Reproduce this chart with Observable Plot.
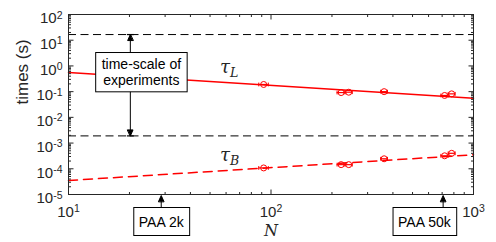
<!DOCTYPE html>
<html><head><meta charset="utf-8">
<script src="https://cdn.jsdelivr.net/npm/d3@7"></script>
<script src="https://cdn.jsdelivr.net/npm/@observablehq/plot@0.6"></script>
<style>html,body{margin:0;padding:0;background:#fff;}</style>
</head><body><div id="chart"></div>
<script>
// ---- data ----
const N      = [92, 222, 242, 362, 720, 780];
const NLo    = [87, 212, 232, 348, 690, 750];
const NHi    = [97, 232, 252, 376, 750, 812];
const tauL   = [0.19, 0.092, 0.095, 0.10, 0.071, 0.082];
const tauB   = [1.08e-4, 1.45e-4, 1.45e-4, 2.45e-4, 3.2e-4, 4.0e-4];
const fitN   = [10, 1000];
const fitL   = [0.55, 0.055];
const fitB   = [3.5e-5, 3.5e-4];
const expLimits = [16.6, 1.9e-3];
const xTicks = [10, 100, 1000];
const xTickLabels = ["10^1", "10^2", "10^3"];
const yTicks = [1e-5, 1e-4, 1e-3, 1e-2, 1e-1, 1e0, 1e1, 1e2];
const yTickLabels = ["10^-5", "10^-4", "10^-3", "10^-2", "10^-1", "10^0", "10^1", "10^2"];
const paaArrowN = [28.7, 708];
const paaBoxN = [28.7, 572];
const paaLabels = ["PAA 2k", "PAA 50k"];
const expArrowN = 20.2;
const expBoxN = 22.9, expBoxT = 0.58;
const expText = "time-scale of\nexperiments";
const seriesLabels = ["τ_L", "τ_B"];
const seriesLabelN = 56;
const seriesLabelT = [0.90, 3.4e-4];
const xLabel = "N", yLabel = "times (s)";

// minor ticks from the decade ticks
const minor = t => t.slice(0, -1).flatMap(d => [2,3,4,5,6,7,8,9].map(k => d * k));
const xMinor = minor(xTicks), yMinor = minor(yTicks);

const ink = "#262626", red = "#ff0000";
const tickShape = {draw(c, l) { c.moveTo(0, 0); c.lineTo(0, -l); }};
const headShape = {draw(c, l) { const w = l * 0.45; c.moveTo(0, -l); c.lineTo(-w, 0); c.lineTo(w, 0); c.closePath(); }};
const arrowShape = {draw(c, l) { const h = 6, w = 2.7; c.moveTo(0, 0); c.lineTo(0, -l + h); c.moveTo(-w, -l + h); c.lineTo(0, -l); c.lineTo(w, -l + h); c.closePath(); }};
const idx = N.map((_, i) => i);

const tickMarks = (vals, len) => [
  Plot.vector(vals, {x: d => d, frameAnchor: "bottom", rotate: 0, length: len, anchor: "start", shape: tickShape, stroke: ink, strokeWidth: 1, strokeLinecap: "butt"}),
  Plot.vector(vals, {x: d => d, frameAnchor: "top", rotate: 180, length: len, anchor: "start", shape: tickShape, stroke: ink, strokeWidth: 1, strokeLinecap: "butt"})
];
const tickMarksY = (vals, len) => [
  Plot.vector(vals, {y: d => d, frameAnchor: "left", rotate: 90, length: len, anchor: "start", shape: tickShape, stroke: ink, strokeWidth: 1, strokeLinecap: "butt"}),
  Plot.vector(vals, {y: d => d, frameAnchor: "right", rotate: -90, length: len, anchor: "start", shape: tickShape, stroke: ink, strokeWidth: 1, strokeLinecap: "butt"})
];

const plot = Plot.plot({
  width: 496, height: 242,
  marginLeft: 68, marginRight: 23, marginTop: 14, marginBottom: 48,
  x: {type: "log", domain: [10, 1000], axis: null},
  y: {type: "log", domain: [1e-5, 1e2], axis: null},
  style: {fontFamily: "'Liberation Sans', Arial, Helvetica, sans-serif", background: "white", color: ink},
  marks: [
    // experiment time-scale limits
    Plot.ruleY(expLimits, {y: d => d, stroke: "black", strokeWidth: 1, strokeDasharray: "8,4.5"}),
    // fits
    Plot.line(fitN.map((n, i) => ({n, t: fitL[i]})), {x: "n", y: "t", stroke: red, strokeWidth: 1.5}),
    Plot.line(fitN.map((n, i) => ({n, t: fitB[i]})), {x: "n", y: "t", stroke: red, strokeWidth: 1.5, strokeDasharray: "9,6"}),
    // error bars and markers
    ...[tauL, tauB].flatMap(T => [
      Plot.ruleY(idx, {y: i => T[i], x1: i => NLo[i], x2: i => NHi[i], stroke: red, strokeWidth: 1.2}),
      Plot.vector(idx, {x: i => NLo[i], y: i => T[i], length: 3, anchor: "middle", shape: tickShape, stroke: red, strokeWidth: 1}),
      Plot.vector(idx, {x: i => NHi[i], y: i => T[i], length: 3, anchor: "middle", shape: tickShape, stroke: red, strokeWidth: 1}),
      Plot.dot(idx, {x: i => N[i], y: i => T[i], r: 3, stroke: red, strokeWidth: 1, fill: "none"})
    ]),
    // series labels
    Plot.text(seriesLabels, {x: seriesLabelN, y: (d, i) => seriesLabelT[i], text: d => d, textAnchor: "start",
      fontFamily: "'DejaVu Serif', 'Liberation Serif', serif", fontStyle: "italic", fontSize: 18, fill: ink, className: "subText"}),
    // double-headed arrow for experiment time-scale
    Plot.ruleX([expArrowN], {x: d => d, y1: expLimits[0], y2: expLimits[1], stroke: "black", strokeWidth: 1}),
    Plot.vector([0], {x: expArrowN, y: expLimits[0], rotate: 0, length: 6, anchor: "end", shape: headShape, stroke: "black", fill: "black", strokeWidth: 1}),
    Plot.vector([0], {x: expArrowN, y: expLimits[1], rotate: 180, length: 6, anchor: "end", shape: headShape, stroke: "black", fill: "black", strokeWidth: 1}),
    Plot.vector(expLimits, {x: expArrowN, y: d => d, rotate: 90, length: 7, anchor: "middle", shape: tickShape, stroke: "black", strokeWidth: 1.2, strokeLinecap: "butt"}),
    Plot.text([expText], {x: expBoxN, y: expBoxT, text: d => d, fontSize: 14, lineHeight: 1.15, fill: "black", className: "boxA"}),
    // frame and ticks
    Plot.frame({stroke: ink, strokeWidth: 1}),
    ...tickMarks(xTicks, 5), ...tickMarks(xMinor, 2.5),
    ...tickMarksY(yTicks, 5), ...tickMarksY(yMinor, 2.5),
    Plot.text(xTickLabels, {x: (d, i) => xTicks[i], frameAnchor: "bottom", dy: 22.5, text: d => d, fontSize: 15, fill: ink, className: "supText"}),
    Plot.text(yTickLabels, {y: (d, i) => yTicks[i], frameAnchor: "left", dx: -6, dy: 4, textAnchor: "end", text: d => d, fontSize: 15, fill: ink, className: "supText"}),
    Plot.text([xLabel], {frameAnchor: "bottom", dy: 41.5, text: d => d, fontSize: 16, fontStyle: "italic",
      fontFamily: "'DejaVu Serif', 'Liberation Serif', serif", fill: ink}),
    Plot.text([yLabel], {frameAnchor: "left", dx: -46, rotate: -90, text: d => d, fontSize: 17, fill: ink}),
    // PAA annotations below the axis
    Plot.vector(paaArrowN, {x: d => d, frameAnchor: "bottom", dy: 18, rotate: 0, length: 17, anchor: "start", shape: arrowShape, stroke: "black", fill: "black", strokeWidth: 1}),
    Plot.text(paaLabels, {x: (d, i) => paaBoxN[i], frameAnchor: "bottom", dy: 32, text: d => d, fontSize: 14, fill: "black", className: "boxB"})
  ]
});
document.getElementById("chart").append(plot);

const s = d3.select(plot);
s.selectAll("g.supText text").each(function() {
  const t = this.textContent, i = t.indexOf("^");
  if (i < 0) return;
  this.textContent = t.slice(0, i);
  d3.select(this).append("tspan").attr("dy", "-0.45em").attr("font-size", "0.7em").text(t.slice(i + 1));
});
s.selectAll("g.subText text").each(function() {
  const t = this.textContent, i = t.indexOf("_");
  if (i < 0) return;
  this.textContent = t.slice(0, i);
  d3.select(this).append("tspan").attr("dy", "0.3em").attr("font-size", "0.7em").text(t.slice(i + 1));
});
function box(cls, px, py) {
  s.selectAll("g." + cls + " text").each(function() {
    const b = this.getBBox();
    const r = document.createElementNS("http://www.w3.org/2000/svg", "rect");
    r.setAttribute("x", b.x - px); r.setAttribute("y", b.y - py);
    r.setAttribute("width", b.width + 2 * px); r.setAttribute("height", b.height + 2 * py);
    r.setAttribute("fill", "white"); r.setAttribute("stroke", "black"); r.setAttribute("stroke-width", 1);
    const tr = this.getAttribute("transform"); if (tr) r.setAttribute("transform", tr);
    this.parentNode.insertBefore(r, this);
  });
}
box("boxA", 6, 3.6);
box("boxB", 5, 6);
</script>
</body></html>
